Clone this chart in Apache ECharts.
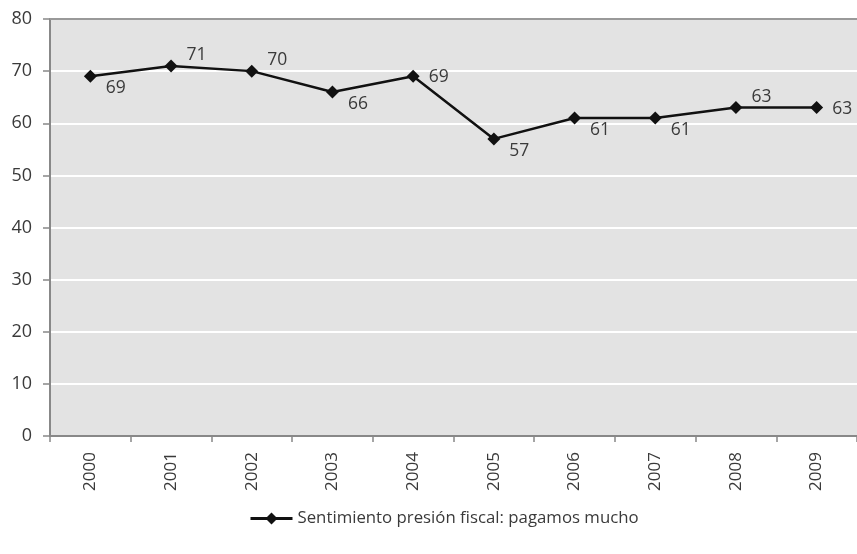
<!DOCTYPE html>
<html>
<head>
<meta charset="utf-8">
<script src="https://cdn.jsdelivr.net/npm/echarts@6/dist/echarts.min.js"></script>
<style>
  html, body { margin: 0; padding: 0; background: #ffffff; }
  #chart { width: 857px; height: 554px; }
</style>
</head>
<body>
<div id="chart"></div>
<script>
// Years on the category axis
const years = ['2000', '2001', '2002', '2003', '2004', '2005', '2006', '2007', '2008', '2009'];
// Share of people who feel they pay a lot of tax (%)
const pagamosMucho = [69, 71, 70, 66, 69, 57, 61, 61, 63, 63];
// Where each value label sits relative to its point: 'below', 'above' or 'side'
const labelPlacement = ['below', 'above', 'above', 'below', 'side', 'below', 'below', 'below', 'above', 'side'];
const seriesName = 'Sentimiento presión fiscal: pagamos mucho';

const FONT = '"Open Sans", "Noto Sans", sans-serif';
const TEXT = '#3a3a3a';

const offsets = { below: [3, 12], above: [3, -11], side: [3, 1] };

const seriesData = pagamosMucho.map((v, i) => ({
  value: v,
  label: { offset: offsets[labelPlacement[i]] }
}));

const chart = echarts.init(document.getElementById('chart'));
chart.setOption({
  animation: false,
  textStyle: { fontFamily: FONT },
  grid: {
    left: 50, top: 19, width: 812, height: 417,
    show: true, backgroundColor: '#e3e3e3', borderWidth: 0
  },
  legend: {
    bottom: 22, left: 244,
    itemWidth: 42, itemHeight: 15, itemGap: 10,
    lineStyle: { width: 3 },
    textStyle: { fontSize: 16.8, color: TEXT, fontFamily: FONT },
    data: [seriesName]
  },
  xAxis: {
    type: 'category',
    data: years,
    boundaryGap: true,
    axisLine: { show: true, lineStyle: { color: '#888888', width: 2 } },
    axisTick: { show: true, length: 6, lineStyle: { color: '#888888', width: 1.5 } },
    axisLabel: { rotate: 90, margin: 16, fontSize: 17, color: TEXT, fontFamily: FONT },
    splitLine: { show: false }
  },
  yAxis: {
    type: 'value',
    min: 0, max: 80, interval: 10,
    axisLine: { show: true, lineStyle: { color: '#888888', width: 2 } },
    axisTick: { show: true, length: 7, lineStyle: { color: '#888888', width: 1.5 } },
    axisLabel: { margin: 18, fontSize: 18, color: TEXT, fontFamily: FONT },
    splitLine: { show: true, lineStyle: { color: '#ffffff', width: 2 } }
  },
  series: [{
    name: seriesName,
    type: 'line',
    data: seriesData,
    symbol: 'diamond',
    symbolSize: 13,
    itemStyle: { color: '#111111' },
    lineStyle: { color: '#111111', width: 2.5 },
    label: {
      show: true, position: 'right', distance: 6,
      fontSize: 17.5, color: TEXT, fontFamily: FONT
    },
    markLine: {
      silent: true, symbol: 'none', label: { show: false },
      lineStyle: { color: '#999999', width: 2, type: 'solid' },
      data: [{ yAxis: 80 }]
    }
  }]
});
</script>
</body>
</html>
